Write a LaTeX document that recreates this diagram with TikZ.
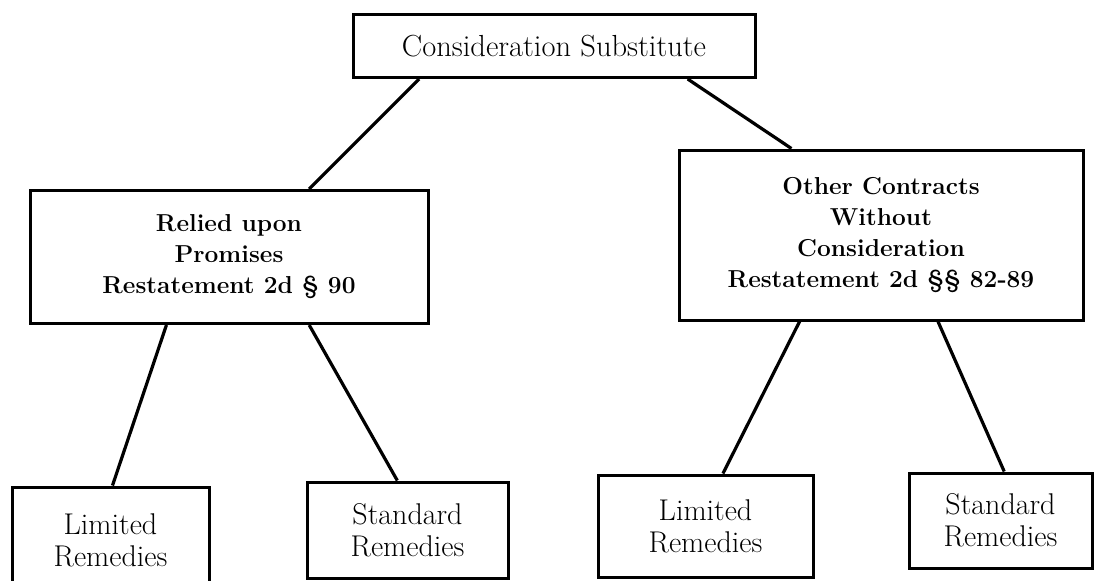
\documentclass[tikz,border=0pt]{standalone}
\usetikzlibrary{calc}
\begin{document}
\begin{tikzpicture}[x=1pt,y=-1pt,
  box/.style={draw=black, line width=3pt, rectangle, align=center, inner sep=0pt},
  topfont/.style={font=\fontsize{30.5}{33}\selectfont},
  midfont/.style={font=\fontsize{24.5}{31}\selectfont\bfseries},
  botfont/.style={font=\fontsize{30}{32}\selectfont},
  link/.style={draw=black, line width=3.2pt}]
\useasboundingbox[fill=white] (0,0) rectangle (1101,581);
\node[box, topfont, minimum width=402pt, minimum height=63pt] (top) at (554,46) {Consideration Substitute};
\node[box, midfont, minimum width=398pt, minimum height=133pt] (left) at (229,257) {Relied upon\\Promises\\Restatement 2d \S\ 90};
\node[box, midfont, minimum width=404pt, minimum height=170pt] (right) at (881,235) {Other Contracts\\Without\\Consideration\\Restatement 2d \S\S\ 82-89};
\node[box, botfont, minimum width=197pt, minimum height=106pt] (ll) at (110.5,540) {Limited\\Remedies};
\node[box, botfont, minimum width=201pt, minimum height=96pt] (lr) at (407.5,530) {Standard\\Remedies};
\node[box, botfont, minimum width=215pt, minimum height=102pt] (rl) at (705.5,526) {Limited\\Remedies};
\node[box, botfont, minimum width=183pt, minimum height=95pt] (rr) at (1000.5,520.5) {Standard\\Remedies};
\draw[link] ($(top.south west)!0.167!(top.south east)$) -- ($(left.north west)!0.70!(left.north east)$);
\draw[link] ($(top.south west)!0.83!(top.south east)$) -- ($(right.north west)!0.28!(right.north east)$);
\draw[link] ($(left.south west)!0.344!(left.south east)$) -- ($(ll.north west)!0.51!(ll.north east)$);
\draw[link] ($(left.south west)!0.70!(left.south east)$) -- ($(lr.north west)!0.45!(lr.north east)$);
\draw[link] ($(right.south west)!0.30!(right.south east)$) -- ($(rl.north west)!0.58!(rl.north east)$);
\draw[link] ($(right.south west)!0.64!(right.south east)$) -- ($(rr.north west)!0.52!(rr.north east)$);
\end{tikzpicture}
\end{document}
